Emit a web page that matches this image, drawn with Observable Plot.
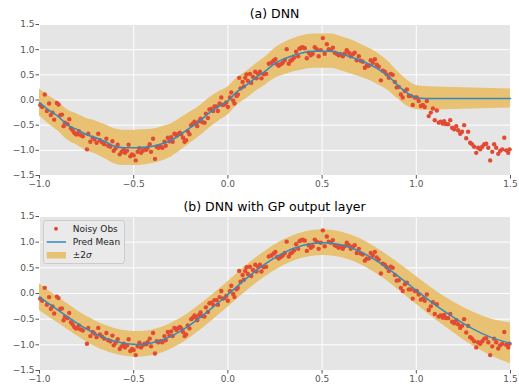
<!DOCTYPE html>
<html>
<head>
<meta charset="utf-8">
<script src="https://cdn.jsdelivr.net/npm/d3@7"></script>
<script src="https://cdn.jsdelivr.net/npm/@observablehq/plot@0.6"></script>
<style>
  html, body { margin: 0; padding: 0; background: #fff; }
  #wrap { position: relative; width: 519px; height: 386px; font-family: "DejaVu Sans", sans-serif; overflow: hidden; }
  .panel { position: absolute; left: 0; }
  .title { position: absolute; left: 39px; width: 471px; text-align: center; font-size: 12.5px; line-height: 13px; color: #000; }
  #legend { position: absolute; left: 43px; top: 220px; width: 82px; height: 44px; box-sizing: border-box;
            background: #EAEAEA; border: 1px solid #CCCCCC; border-radius: 3px; }
</style>
</head>
<body>
<div id="wrap"></div>
<script>
// ---- Data ----
const titles = ["(a) DNN", "(b) DNN with GP output layer"];
const xTicks = [-1.0, -0.5, 0.0, 0.5, 1.0, 1.5];
const yTicks = [-1.5, -1.0, -0.5, 0.0, 0.5, 1.0, 1.5];
const legendLabels = ["Noisy Obs", "Pred Mean", "±2σ"];

// Noisy observations (shared by both panels)
const obsX = [-0.996,-0.986,-0.972,-0.961,-0.949,-0.940,-0.931,-0.922,-0.908,-0.899,-0.890,-0.881,-0.872,-0.865,-0.851,-0.842,-0.833,-0.824,-0.816,-0.807,-0.798,-0.791,-0.780,-0.770,-0.748,-0.741,-0.730,-0.718,-0.709,-0.697,-0.688,-0.679,-0.668,-0.656,-0.645,-0.635,-0.624,-0.613,-0.606,-0.596,-0.585,-0.574,-0.564,-0.553,-0.546,-0.535,-0.527,-0.518,-0.509,-0.500,-0.489,-0.479,-0.470,-0.461,-0.452,-0.443,-0.433,-0.426,-0.415,-0.408,-0.397,-0.387,-0.378,-0.369,-0.358,-0.348,-0.337,-0.330,-0.319,-0.310,-0.301,-0.293,-0.284,-0.273,-0.266,-0.255,-0.248,-0.238,-0.230,-0.222,-0.213,-0.204,-0.195,-0.186,-0.177,-0.168,-0.163,-0.152,-0.145,-0.135,-0.124,-0.117,-0.106,-0.098,-0.089,-0.078,-0.071,-0.060,-0.053,-0.044,-0.035,-0.028,-0.018,-0.009,0.000,0.011,0.018,0.028,0.035,0.046,0.053,0.060,0.067,0.078,0.085,0.092,0.099,0.106,0.117,0.124,0.133,0.145,0.152,0.160,0.170,
0.178,0.190,0.203,0.217,0.231,0.243,0.252,0.261,0.270,0.281,0.291,0.302,0.312,0.323,0.332,0.341,0.351,0.362,0.373,0.380,0.389,0.397,0.408,0.419,0.429,0.440,0.450,0.461,0.472,0.482,0.493,0.504,0.514,0.525,0.535,0.546,0.557,0.567,0.578,0.588,0.599,0.610,0.620,0.631,0.642,0.652,0.663,0.673,0.684,0.695,0.705,0.716,0.727,0.737,0.748,0.758,0.769,0.780,0.790,0.801,0.812,0.822,0.833,0.843,0.854,0.865,0.875,0.886,0.896,0.907,0.918,0.928,0.939,0.950,0.960,0.971,0.981,0.992,1.003,1.013,1.024,1.035,1.045,1.056,1.066,1.077,1.088,1.098,1.109,1.119,1.130,1.141,1.148,1.158,1.169,1.180,1.190,1.201,1.212,1.222,1.233,1.243,1.254,1.265,1.275,1.286,1.296,1.307,1.318,1.328,1.339,1.350,1.361,1.371,1.382,1.392,1.403,1.413,1.424,1.435,1.445,1.456,1.467,1.477,1.488,1.495];
const obsY = [-0.10,-0.14,0.11,-0.22,-0.07,-0.30,-0.25,-0.39,-0.06,-0.09,-0.30,-0.29,-0.52,-0.45,-0.48,-0.38,-0.56,-0.60,-0.65,-0.68,-0.68,-0.62,-0.70,-0.72,-0.98,-0.67,-0.83,-0.75,-0.78,-0.85,-0.67,-0.80,-0.84,-0.88,-0.77,-0.91,-0.93,-0.82,-1.01,-0.96,-0.89,-1.08,-1.03,-0.98,-1.05,-1.01,-0.89,-1.12,-1.08,-1.10,-1.20,-1.03,-0.96,-1.05,-1.01,-0.98,-0.99,-0.95,-0.88,-1.03,-0.77,-1.17,-0.93,-0.95,-0.93,-0.95,-0.83,-0.91,-0.75,-0.82,-0.74,-0.83,-0.67,-0.71,-0.68,-0.65,-0.68,-0.75,-0.83,-0.80,-0.62,-0.68,-0.50,-0.47,-0.43,-0.46,-0.52,-0.42,-0.37,-0.44,-0.45,-0.27,-0.36,-0.19,-0.18,-0.22,-0.13,-0.13,-0.22,-0.07,0.05,-0.10,-0.09,-0.05,-0.14,0.05,0.15,-0.01,-0.07,0.08,0.11,0.44,0.23,0.36,0.27,0.44,0.51,0.38,0.52,0.34,0.46,0.56,0.43,0.52,0.56,
0.43,0.51,0.52,0.72,0.74,0.78,0.81,0.71,0.68,0.71,0.74,0.79,1.01,0.72,0.78,0.80,0.84,0.96,0.87,1.02,1.04,1.05,1.03,0.83,0.94,0.89,0.92,1.05,1.01,0.87,0.99,1.23,0.92,1.11,1.01,0.99,1.04,0.94,0.92,0.89,0.91,0.87,0.92,0.99,0.94,0.87,0.91,0.94,0.79,0.87,0.78,0.76,0.64,0.68,0.68,0.79,0.74,0.81,0.70,0.66,0.39,0.58,0.56,0.51,0.44,0.52,0.50,0.36,0.25,0.26,0.11,0.05,0.18,0.21,0.08,0.08,-0.10,0.05,0.05,-0.02,-0.12,-0.10,-0.14,-0.02,-0.32,-0.25,-0.17,-0.40,-0.21,-0.45,-0.43,-0.47,-0.42,-0.48,-0.48,-0.40,-0.55,-0.58,-0.52,-0.60,-0.67,-0.63,-0.50,-0.76,-0.63,-0.85,-0.88,-0.93,-1.05,-0.95,-0.98,-0.93,-0.88,-0.87,-0.95,-1.20,-1.03,-0.88,-0.95,-1.07,-1.01,-0.98,-0.75,-1.00,-1.05,-0.98];

// (a) DNN prediction: mean and 2-sigma half width
const dnnX = [-1.0,-0.95,-0.9,-0.85,-0.8,-0.75,-0.7,-0.65,-0.6,-0.55,-0.5,-0.45,-0.4,-0.35,-0.3,-0.25,-0.2,-0.15,-0.1,-0.05,0.0,0.05,0.1,0.15,0.2,0.25,0.3,0.35,0.4,0.45,0.5,0.55,0.6,0.65,0.7,0.75,0.8,0.85,0.9,0.95,1.0,1.05,1.1,1.2,1.3,1.4,1.5];
const dnnMean = [-0.05,-0.20,-0.33,-0.50,-0.59,-0.69,-0.75,-0.83,-0.92,-0.95,-0.95,-0.94,-0.92,-0.87,-0.80,-0.68,-0.55,-0.42,-0.26,-0.13,-0.02,0.17,0.30,0.45,0.58,0.73,0.82,0.89,0.94,0.97,0.97,0.97,0.92,0.86,0.79,0.71,0.61,0.48,0.30,0.14,0.05,0.03,0.03,0.03,0.03,0.03,0.03];
const dnnHalf = [0.27,0.28,0.29,0.30,0.31,0.32,0.33,0.34,0.35,0.35,0.35,0.35,0.34,0.34,0.33,0.32,0.31,0.30,0.30,0.29,0.28,0.27,0.27,0.27,0.28,0.30,0.32,0.33,0.34,0.34,0.34,0.34,0.34,0.34,0.33,0.32,0.31,0.29,0.27,0.26,0.24,0.24,0.23,0.22,0.21,0.20,0.19];

// (b) DNN with GP output layer: mean and 2-sigma half width
const gpX = [-1.0,-0.9,-0.8,-0.7,-0.6,-0.5,-0.4,-0.3,-0.2,-0.1,0.0,0.1,0.2,0.3,0.4,0.5,0.6,0.7,0.8,0.9,1.0,1.1,1.2,1.3,1.4,1.5];
const gpMean = [-0.07,-0.33,-0.58,-0.79,-0.93,-0.99,-0.96,-0.83,-0.61,-0.33,-0.02,0.30,0.58,0.80,0.94,0.99,0.95,0.82,0.61,0.35,0.06,-0.22,-0.47,-0.69,-0.86,-0.97];
const gpHalf = [0.26,0.25,0.25,0.25,0.25,0.25,0.25,0.25,0.25,0.25,0.25,0.25,0.25,0.25,0.25,0.25,0.25,0.25,0.25,0.26,0.27,0.28,0.30,0.33,0.36,0.40];

// ---- Build ----
const obs = obsX.map((x, i) => ({x, y: obsY[i]}));
const dnn = dnnX.map((x, i) => ({x, m: dnnMean[i], lo: dnnMean[i] - dnnHalf[i], hi: dnnMean[i] + dnnHalf[i]}));
const gp = gpX.map((x, i) => ({x, m: gpMean[i], lo: gpMean[i] - gpHalf[i], hi: gpMean[i] + gpHalf[i]}));

const RED = "#E24A33", BLUE = "#348ABD", BAND = "#E8C172", BG = "#E5E5E5";
const fmt = d3.format(".1f");

function panel(pred, height, mb, curve) {
  return Plot.plot({
    width: 519, height,
    marginLeft: 39, marginRight: 9, marginTop: 24, marginBottom: mb,
    style: {fontFamily: "DejaVu Sans", fontSize: "9px", color: "#555", background: "transparent", overflow: "visible"},
    x: {domain: [-1, 1.5]},
    y: {domain: [-1.5, 1.5]},
    marks: [
      Plot.frame({fill: BG, stroke: null}),
      Plot.gridX(xTicks, {stroke: "white", strokeOpacity: 1, strokeWidth: 1}),
      Plot.gridY(yTicks, {stroke: "white", strokeOpacity: 1, strokeWidth: 1}),
      Plot.areaY(pred, {x: "x", y1: "lo", y2: "hi", fill: BAND, curve}),
      Plot.dot(obs, {x: "x", y: "y", r: 2.2, fill: RED, stroke: null}),
      Plot.line(pred, {x: "x", y: "m", stroke: BLUE, strokeWidth: 1.5, curve}),
      Plot.axisX(xTicks, {tickFormat: fmt, tickSize: 3.5, tickPadding: 1.5, label: null, stroke: "#555"}),
      Plot.axisY(yTicks, {tickFormat: fmt, tickSize: 3.5, tickPadding: 1.5, label: null, stroke: "#555"})
    ]
  });
}

const wrap = document.getElementById("wrap");

const pa = panel(dnn, 190, 15, "monotone-x");
pa.classList.add("panel"); pa.style.top = "0px";
wrap.appendChild(pa);

const pb = panel(gp, 194, 16, "natural");
pb.classList.add("panel"); pb.style.top = "192px";
wrap.appendChild(pb);

const ta = document.createElement("div");
ta.className = "title"; ta.style.top = "6.5px"; ta.textContent = titles[0];
wrap.appendChild(ta);
const tb = document.createElement("div");
tb.className = "title"; tb.style.top = "200px"; tb.textContent = titles[1];
wrap.appendChild(tb);

// Legend
const leg = document.createElement("div");
leg.id = "legend";
const ns = "http://www.w3.org/2000/svg";
const ls = document.createElementNS(ns, "svg");
ls.setAttribute("width", "80"); ls.setAttribute("height", "42");
ls.style.position = "absolute"; ls.style.left = "0px"; ls.style.top = "0px";
ls.style.fontFamily = "DejaVu Sans"; ls.style.fontSize = "9px";
ls.innerHTML = `
  <circle cx="12" cy="7.7" r="2" fill="${RED}"></circle>
  <line x1="2.7" x2="22" y1="21" y2="21" stroke="${BLUE}" stroke-width="1.5"></line>
  <rect x="2.7" y="31" width="19.3" height="6.5" fill="${BAND}"></rect>
  <text x="28.7" y="7.7" dy="0.35em" fill="#222">${legendLabels[0]}</text>
  <text x="28.7" y="21" dy="0.35em" fill="#222">${legendLabels[1]}</text>
  <text x="28.7" y="34" dy="0.35em" fill="#222">±2<tspan font-style="italic">σ</tspan></text>`;
leg.appendChild(ls);
wrap.appendChild(leg);
</script>
</body>
</html>
